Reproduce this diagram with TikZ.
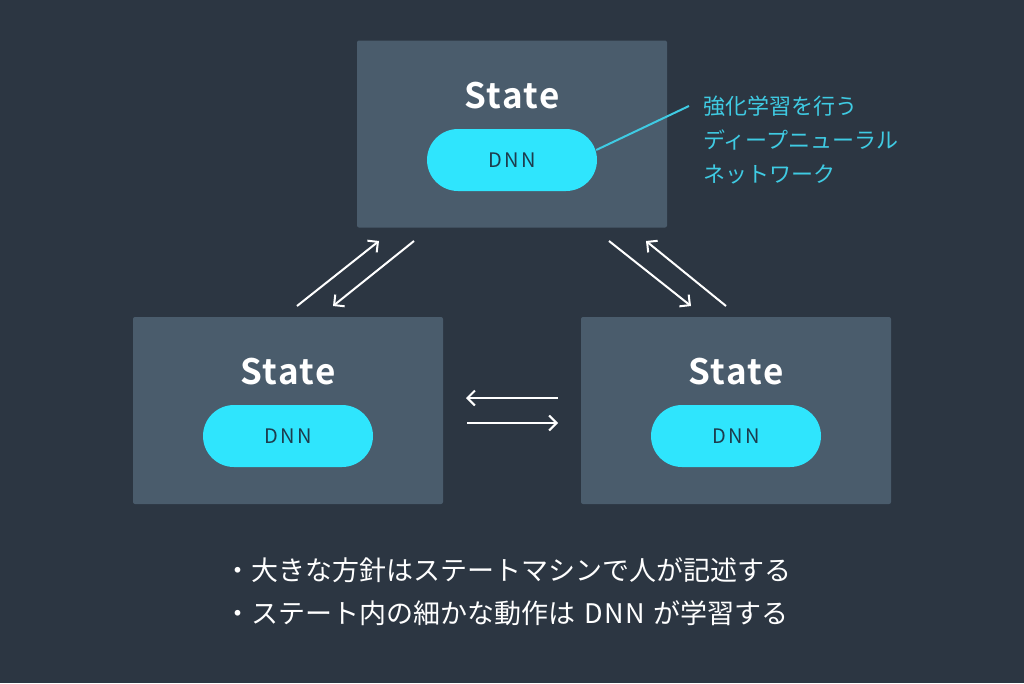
\documentclass[tikz,border=0pt]{standalone}
\usepackage{fontspec}
\setmainfont{Noto Sans CJK JP}
\newfontfamily\jpb{Noto Sans CJK JP Bold}
\usetikzlibrary{arrows.meta}
\definecolor{bg}{HTML}{2C3642}
\definecolor{boxc}{HTML}{4A5C6C}
\definecolor{pill}{HTML}{2FE5FD}
\definecolor{dnntext}{HTML}{1D3C4D}
\definecolor{callc}{HTML}{3FCBE3}
\begin{document}
\begin{tikzpicture}[x=1pt,y=-1pt,
  statebox/.style={fill=boxc, draw=none, rounded corners=2pt, minimum width=310pt, minimum height=187pt, inner sep=0pt},
  statelabel/.style={text=white, font=\jpb\fontsize{35}{40}\selectfont\addfontfeature{LetterSpace=4}},
  dnnpill/.style={fill=pill, draw=none, rounded corners=31pt, minimum width=170pt, minimum height=62pt, inner sep=0pt, text=dnntext, font=\fontsize{20}{24}\selectfont\addfontfeature{LetterSpace=12}},
  flow/.style={draw=white, line width=2pt, -{Straight Barb[length=7.5pt,width=15pt,line width=2pt]}},
  calltext/.style={text=callc, anchor=west, inner sep=0pt, font=\fontsize{22}{26}\selectfont},
  bullet/.style={text=white, anchor=west, inner sep=0pt, font=\fontsize{27}{31}\selectfont}
]
\fill[bg] (0,0) rectangle (1024,683);
\useasboundingbox (0,0) rectangle (1024,683);

\node[statebox] (top) at (512,134) {};
\node[statebox] (left) at (288,410.5) {};
\node[statebox] (right) at (736,410.5) {};

\node[statelabel] (st1) at (512,96) {State};
\node[statelabel] (st2) at (288,372) {State};
\node[statelabel] (st3) at (736,372) {State};

\node[dnnpill] (d1) at (512,160) {DNN};
\node[dnnpill] (d2) at (288,436) {DNN};
\node[dnnpill] (d3) at (736,436) {DNN};

% arrows
\coordinate (a1s) at (297,306); \coordinate (a1e) at (379,241);
\coordinate (a2s) at (414,241); \coordinate (a2e) at (333,306);
\coordinate (b1s) at (609,241); \coordinate (b1e) at (691,306);
\coordinate (b2s) at (726,306); \coordinate (b2e) at (646,241);
\coordinate (c1s) at (558,398); \coordinate (c1e) at (466,398);
\coordinate (c2s) at (467,423); \coordinate (c2e) at (558,423);
\draw[flow] (a1s) -- (a1e);
\draw[flow] (a2s) -- (a2e);
\draw[flow] (b1s) -- (b1e);
\draw[flow] (b2s) -- (b2e);
\draw[flow] (c1s) -- (c1e);
\draw[flow] (c2s) -- (c2e);

% callout
\coordinate (cl) at (689,106);
\draw[callc, line width=2pt] (d1.east |- 0,150) ++(-1,0) -- (cl);
\node[calltext] (ct1) at (703,106) {強化学習を行う};
\node[calltext] (ct2) at (703,140) {ディープニューラル};
\node[calltext] (ct3) at (703,174) {ネットワーク};

% bullets
\node[bullet] (b1) at (224,570) {・大きな方針はステートマシンで人が記述する};
\node[bullet] (b2) at (224,613) {・ステート内の細かな動作は\hspace{3pt} D\hspace{1.5pt}N\hspace{1.5pt}N \hspace{3pt}が学習する};
\end{tikzpicture}
\end{document}
